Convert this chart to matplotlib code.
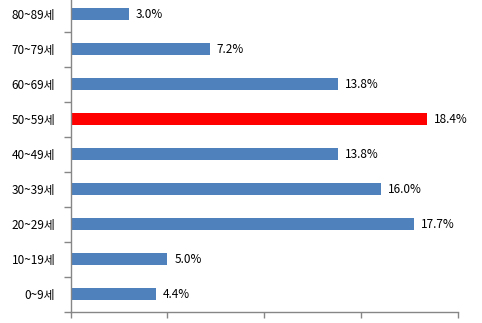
import numpy as np
import matplotlib.pyplot as plt
from matplotlib.ticker import FixedLocator, NullFormatter

plt.rcParams['font.family'] = ['Noto Sans CJK KR', 'DejaVu Sans']

# age groups, bottom to top
ages = ["0~9세", "10~19세", "20~29세", "30~39세", "40~49세",
        "50~59세", "60~69세", "70~79세", "80~89세"]
shares = [4.4, 5.0, 17.7, 16.0, 13.8, 18.4, 13.8, 7.2, 3.0]
highlight = "50~59세"

blue = "#4F81BD"
red = "#FF0000"
axis_grey = "#868686"

fig = plt.figure(figsize=(4.82, 3.23), dpi=100)
ax = fig.add_axes([0.1463, 0.0356, 0.8045, 0.9752])

y = np.arange(len(ages))
colors = [red if a == highlight else blue for a in ages]
bars = ax.barh(y, shares, height=0.37, color=colors)

for b, v in zip(bars, shares):
    ax.text(b.get_width() + 0.35, b.get_y() + b.get_height() / 2, f"{v:.1f}%",
            va="center", ha="left", fontsize=8.5, color="black")

ax.set_xlim(0, 20)
ax.set_ylim(-0.5, len(ages) - 0.5)
ax.set_xticks([0, 5, 10, 15, 20])
ax.set_xticklabels([])
ax.set_yticks(y)
ax.set_yticklabels(ages, fontsize=8.5)
ax.yaxis.set_minor_locator(FixedLocator(np.arange(-0.5, len(ages), 1.0)))
ax.yaxis.set_minor_formatter(NullFormatter())
ax.tick_params(axis="y", which="major", length=0, pad=11)
ax.tick_params(axis="y", which="minor", length=5, width=1, color=axis_grey)
ax.tick_params(axis="x", length=4, width=1, color=axis_grey)

for s in ["top", "right"]:
    ax.spines[s].set_visible(False)
for s in ["left", "bottom"]:
    ax.spines[s].set_color(axis_grey)
    ax.spines[s].set_linewidth(1)

fig.savefig("out.png", dpi=100)
